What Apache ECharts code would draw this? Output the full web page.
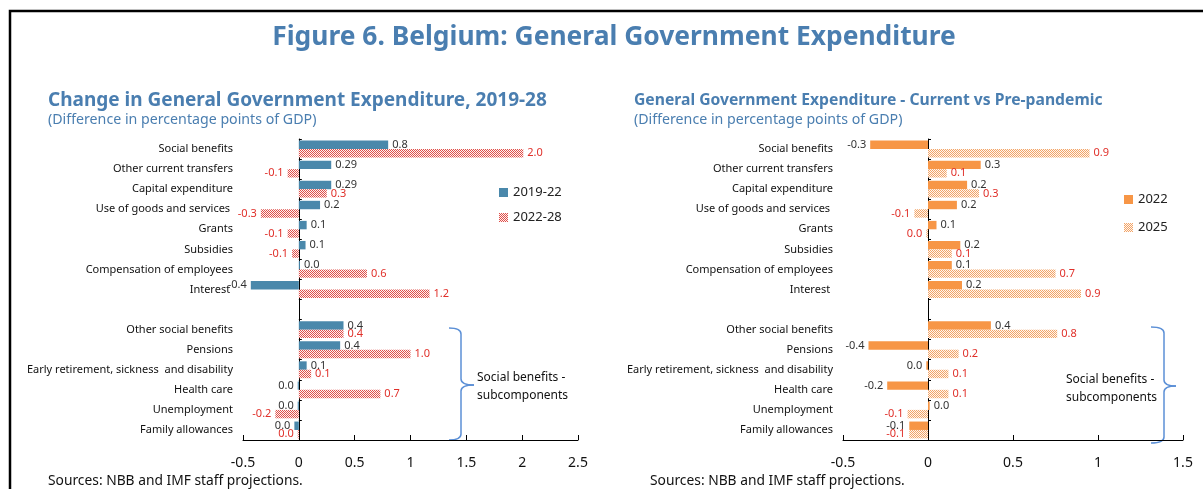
<!DOCTYPE html>
<html>
<head>
<meta charset="utf-8">
<script src="https://cdn.jsdelivr.net/npm/echarts@6/dist/echarts.min.js"></script>
<style>
  html, body { margin: 0; padding: 0; background: #fff; }
  #chart { width: 1203px; height: 489px; }
</style>
</head>
<body>
<div id="chart"></div>
<script>
// categories (blank slot separates the social benefit subcomponents)
const categories = [
  'Social benefits', 'Other current transfers', 'Capital expenditure',
  'Use of goods and services ', 'Grants', 'Subsidies',
  'Compensation of employees', 'Interest ', '',
  'Other social benefits', 'Pensions', 'Early retirement, sickness  and disability',
  'Health care', 'Unemployment', 'Family allowances'
];

// left panel: change 2019-28
const chg1922 = [0.8, 0.29, 0.29, 0.19, 0.07, 0.06, 0.01, -0.43, null, 0.40, 0.37, 0.07, -0.01, -0.01, -0.04];
const lbl1922 = ['0.8', '0.29', '0.29', '0.2', '0.1', '0.1', '0.0', '-0.4', '', '0.4', '0.4', '0.1', '0.0', '0.0', '0.0'];
const chg2228 = [2.01, -0.1, 0.25, -0.34, -0.1, -0.06, 0.61, 1.17, null, 0.40, 1.0, 0.11, 0.73, -0.21, -0.01];
const lbl2228 = ['2.0', '-0.1', '0.3', '-0.3', '-0.1', '-0.1', '0.6', '1.2', '', '0.4', '1.0', '0.1', '0.7', '-0.2', '0.0'];

// right panel: current vs pre-pandemic
const cur2022 = [-0.34, 0.31, 0.23, 0.17, 0.05, 0.19, 0.14, 0.2, null, 0.37, -0.35, -0.01, -0.24, 0.01, -0.11];
const lbl2022 = ['-0.3', '0.3', '0.2', '0.2', '0.1', '0.2', '0.1', '0.2', '', '0.4', '-0.4', '0.0', '-0.2', '0.0', '-0.1'];
const cur2025 = [0.95, 0.11, 0.30, -0.08, -0.01, 0.14, 0.75, 0.90, null, 0.76, 0.18, 0.12, 0.12, -0.12, -0.11];
const lbl2025 = ['0.9', '0.1', '0.3', '-0.1', '0.0', '0.1', '0.7', '0.9', '', '0.8', '0.2', '0.1', '0.1', '-0.1', '-0.1'];

const FONT = '"Noto Sans", "Open Sans", sans-serif';
const TITLE_BLUE = '#4a7eb0';
const BRACE_BLUE = '#5b8fd6';

// fine checker fill used for the hatched series
function checker(fg, bg) {
  const c = document.createElement('canvas');
  c.width = 2; c.height = 2;
  const g = c.getContext('2d');
  g.fillStyle = bg; g.fillRect(0, 0, 2, 2);
  g.fillStyle = fg; g.fillRect(0, 0, 1, 1); g.fillRect(1, 1, 1, 1);
  return { image: c, repeat: 'repeat' };
}

const redHatch = checker('#e0504a', '#fdf2f2');
const orangeHatch = checker('#f2a468', '#fff6ee');

function barData(values) {
  return values.map(v => v == null ? '-' : { value: v, label: { position: v < 0 ? 'left' : 'right' } });
}

function barSeries(name, values, labels, color, labelColor, axisIdx) {
  return {
    name: name,
    type: 'bar',
    xAxisIndex: axisIdx,
    yAxisIndex: axisIdx * 2,
    data: barData(values),
    barCategoryGap: '16%',
    barGap: '0%',
    itemStyle: { color: color },
    label: {
      show: true,
      distance: 4,
      fontSize: 11,
      fontFamily: FONT,
      color: labelColor,
      formatter: p => labels[p.dataIndex]
    },
    emphasis: { disabled: true }
  };
}

function valueAxis(idx, max) {
  return {
    type: 'value', gridIndex: idx, min: -0.5, max: max, interval: 0.5,
    axisLine: { show: true, lineStyle: { color: '#000', width: 1 } },
    axisTick: { show: true, inside: true, length: 5, lineStyle: { color: '#000' } },
    axisLabel: { fontSize: 14, color: '#111', margin: 16, fontFamily: FONT },
    splitLine: { show: false }
  };
}

function catAxes(idx) {
  return [
    { // zero line with ticks
      type: 'category', gridIndex: idx, data: categories, inverse: true, position: 'left',
      axisLine: { onZero: true, lineStyle: { color: '#000', width: 1 } },
      axisTick: { show: true, inside: true, length: 3, lineStyle: { color: '#000' } },
      axisLabel: { show: false }
    },
    { // labels at the left edge of the plot
      type: 'category', gridIndex: idx, data: categories, inverse: true, position: 'left',
      axisLine: { show: false, onZero: false },
      axisTick: { show: false },
      axisLabel: { fontSize: 11, color: '#111', margin: 10, fontFamily: FONT }
    }
  ];
}

// curly brace "}" built from lines and quadratic curves
function brace(xs, xl, xt, yt, ym, yb) {
  const st = { fill: 'none', stroke: BRACE_BLUE, lineWidth: 1.5 };
  const q = (x1, y1, cx, cy, x2, y2) => ({ type: 'bezierCurve', silent: true, shape: { x1: x1, y1: y1, cpx1: cx, cpy1: cy, x2: x2, y2: y2 }, style: st });
  const l = (x1, y1, x2, y2) => ({ type: 'line', silent: true, shape: { x1: x1, y1: y1, x2: x2, y2: y2 }, style: st });
  return [
    q(xs, yt, xl, yt, xl, yt + 6),
    l(xl, yt + 6, xl, ym - 6),
    q(xl, ym - 6, xl, ym, xt, ym),
    q(xt, ym, xl, ym, xl, ym + 6),
    l(xl, ym + 6, xl, yb - 6),
    q(xl, yb - 6, xl, yb, xs, yb)
  ];
}

function braceText(x, y) {
  return {
    type: 'text', x: x, y: y,
    style: { text: 'Social benefits -\nsubcomponents', font: '12px ' + FONT, fill: '#111', lineHeight: 18 }
  };
}

const chart = echarts.init(document.getElementById('chart'), null, { renderer: 'canvas' });

chart.setOption({
  backgroundColor: '#fff',
  animation: false,
  grid: [
    { left: 243, right: 625, top: 139, bottom: 49 },
    { left: 843, right: 20, top: 139, bottom: 49 }
  ],
  xAxis: [valueAxis(0, 2.5), valueAxis(1, 1.5)],
  yAxis: catAxes(0).concat(catAxes(1)),
  legend: [
    {
      data: ['2019-22', '2022-28'], orient: 'vertical', left: 494, top: 181,
      itemWidth: 9, itemHeight: 9, itemGap: 12, icon: 'rect',
      textStyle: { fontSize: 13, color: '#222', fontFamily: FONT }
    },
    {
      data: ['2022', '2025'], orient: 'vertical', left: 1119, top: 188,
      itemWidth: 9, itemHeight: 9, itemGap: 15, icon: 'rect',
      textStyle: { fontSize: 13, color: '#222', fontFamily: FONT }
    }
  ],
  series: [
    barSeries('2019-22', chg1922, lbl1922, '#4a88ab', '#333', 0),
    barSeries('2022-28', chg2228, lbl2228, redHatch, '#e0302a', 0),
    barSeries('2022', cur2022, lbl2022, '#f79646', '#333', 1),
    barSeries('2025', cur2025, lbl2025, orangeHatch, '#e0302a', 1)
  ],
  graphic: [
    { type: 'rect', silent: true, shape: { x: 10, y: 11, width: 1300, height: 600 }, style: { fill: 'none', stroke: '#000', lineWidth: 2.5 } },
    { type: 'text', x: 614, y: 37, style: { text: 'Figure 6. Belgium: General Government Expenditure', font: 'bold 26.4px ' + FONT, fill: TITLE_BLUE, textAlign: 'center', textVerticalAlign: 'middle' } },
    { type: 'text', x: 48, y: 101, style: { text: 'Change in General Government Expenditure, 2019-28', font: 'bold 19px ' + FONT, fill: TITLE_BLUE, textVerticalAlign: 'middle' } },
    { type: 'text', x: 48, y: 120, style: { text: '(Difference in percentage points of GDP)', font: '14.2px ' + FONT, fill: TITLE_BLUE, textVerticalAlign: 'middle' } },
    { type: 'text', x: 634, y: 101, style: { text: 'General Government Expenditure - Current vs Pre-pandemic', font: 'bold 15.7px ' + FONT, fill: TITLE_BLUE, textVerticalAlign: 'middle' } },
    { type: 'text', x: 634, y: 120, style: { text: '(Difference in percentage points of GDP)', font: '14.2px ' + FONT, fill: TITLE_BLUE, textVerticalAlign: 'middle' } },
    { type: 'text', x: 48, y: 481, style: { text: 'Sources: NBB and IMF staff projections.', font: '13.8px ' + FONT, fill: '#111', textVerticalAlign: 'middle' } },
    { type: 'text', x: 650, y: 481, style: { text: 'Sources: NBB and IMF staff projections.', font: '13.8px ' + FONT, fill: '#111', textVerticalAlign: 'middle' } }
  ]
    .concat(brace(449, 461, 474, 328, 385, 440))
    .concat(brace(1151, 1164, 1176, 327, 386, 443))
    .concat([braceText(477, 369), braceText(1066, 371)])
});
</script>
</body>
</html>
